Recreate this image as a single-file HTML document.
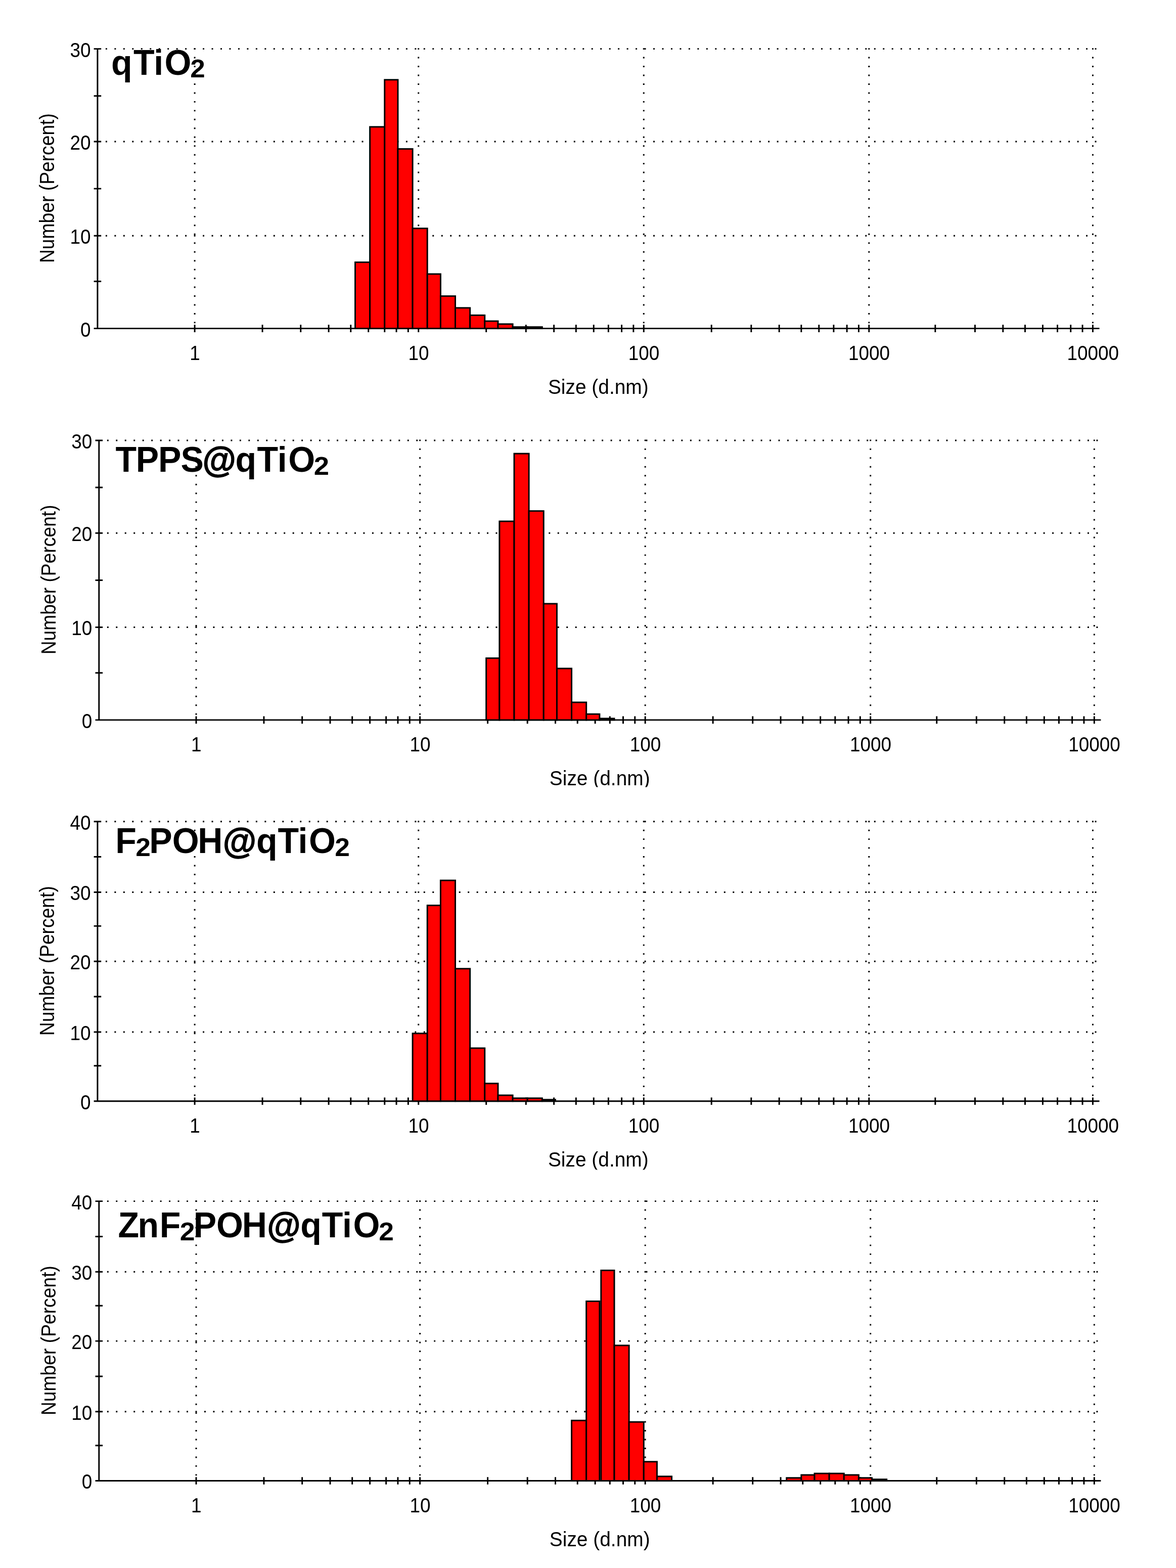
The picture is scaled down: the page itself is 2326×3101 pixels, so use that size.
<!DOCTYPE html>
<html lang="en"><head><meta charset="utf-8"><title>DLS number distributions</title>
<style>
html,body{margin:0;padding:0;background:#fff}
svg{display:block}
text{font-family:"Liberation Sans", Arial, sans-serif;fill:#000;font-kerning:none}
.t{font-size:41px}
.b{font-size:70.5px;font-weight:bold}
.s{font-size:50px;font-weight:bold}
.a{stroke:#000;stroke-width:1.3px}
.g{stroke:#000;stroke-width:2.95;stroke-dasharray:2.95 14.52;fill:none}
.v{stroke:#000;stroke-width:2.95;stroke-dasharray:2.95 14.51;fill:none}
.l{stroke:#000;stroke-width:2.95;fill:none}
.r{fill:#f00;stroke:#000;stroke-width:2.95}
</style></head><body>
<svg width="2326" height="3101" viewBox="0 0 2326 3101">
<rect width="2326" height="3101" fill="#fff"/>
<g>
<path class="g" d="M208.91 466.26H2169.02M208.91 279.99H2169.02M208.91 96.63H2169.02"/>
<path class="v" d="M385.1 95.16V639.76M827.72 95.16V639.76M1273.26 95.16V639.76M1718.8 95.16V639.76M2161.42 95.16V639.76"/>
<path class="l" d="M192.91 96.63V649.62M185.63 649.62H2174.52M185.63 96.63H200.19M185.63 189.77H200.19M185.63 279.99H200.19M185.63 373.13H200.19M185.63 466.26H200.19M185.63 556.49H200.19M385.1 642.35V656.9M519.05 642.35V656.9M594.76 642.35V656.9M650.09 642.35V656.9M693.77 642.35V656.9M728.72 642.35V656.9M760.75 642.35V656.9M784.04 642.35V656.9M807.34 642.35V656.9M827.72 642.35V656.9M961.68 642.35V656.9M1040.3 642.35V656.9M1095.63 642.35V656.9M1139.31 642.35V656.9M1174.25 642.35V656.9M1203.37 642.35V656.9M1229.58 642.35V656.9M1252.88 642.35V656.9M1273.26 642.35V656.9M1407.21 642.35V656.9M1485.84 642.35V656.9M1541.16 642.35V656.9M1584.84 642.35V656.9M1619.79 642.35V656.9M1648.91 642.35V656.9M1675.12 642.35V656.9M1698.41 642.35V656.9M1718.8 642.35V656.9M1849.84 642.35V656.9M1928.46 642.35V656.9M1983.79 642.35V656.9M2027.47 642.35V656.9M2062.41 642.35V656.9M2091.53 642.35V656.9M2117.74 642.35V656.9M2141.04 642.35V656.9M2161.42 642.35V656.9"/>
<rect class="r" x="702.51" y="518.65" width="29.12" height="130.97"/>
<rect class="r" x="731.63" y="250.89" width="29.12" height="398.74"/>
<rect class="r" x="760.75" y="157.75" width="26.21" height="491.87"/>
<rect class="r" x="786.96" y="294.54" width="29.12" height="355.08"/>
<rect class="r" x="816.08" y="451.71" width="29.12" height="197.91"/>
<rect class="r" x="845.2" y="541.94" width="26.21" height="107.69"/>
<rect class="r" x="871.4" y="585.59" width="29.12" height="64.03"/>
<rect class="r" x="900.52" y="608.88" width="29.12" height="40.75"/>
<rect class="r" x="929.64" y="623.43" width="29.12" height="26.19"/>
<rect class="r" x="958.76" y="635.07" width="26.21" height="14.55"/>
<rect class="r" x="984.97" y="640.89" width="29.12" height="8.73"/>
<rect class="r" x="1014.09" y="646.71" width="29.12" height="2.91"/>
<rect class="r" x="1043.21" y="646.71" width="29.12" height="2.91"/>
<text class="t" x="158.9" y="665.52" textLength="20.5" lengthAdjust="spacingAndGlyphs">0</text>
<text class="t" x="138.4" y="482.16" textLength="41" lengthAdjust="spacingAndGlyphs">10</text>
<text class="t" x="138.4" y="295.89" textLength="41" lengthAdjust="spacingAndGlyphs">20</text>
<text class="t" x="138.4" y="112.53" textLength="41" lengthAdjust="spacingAndGlyphs">30</text>
<text class="t" x="375.15" y="711.92" textLength="20.5" lengthAdjust="spacingAndGlyphs">1</text>
<text class="t" x="807.52" y="711.92" textLength="41" lengthAdjust="spacingAndGlyphs">10</text>
<text class="t" x="1242.81" y="711.92" textLength="61.5" lengthAdjust="spacingAndGlyphs">100</text>
<text class="t" x="1678.1" y="711.92" textLength="82" lengthAdjust="spacingAndGlyphs">1000</text>
<text class="t" x="2110.47" y="711.92" textLength="102.5" lengthAdjust="spacingAndGlyphs">10000</text>
<text class="t" x="1083.93" y="778.92" textLength="198.78" lengthAdjust="spacingAndGlyphs">Size (d.nm)</text>
<text class="t" x="-3.06" y="0" textLength="295.96" lengthAdjust="spacingAndGlyphs" transform="translate(106.9 517.03) rotate(-90)">Number (Percent)</text>
<text class="b" transform="scale(0.965 1)" y="147.7"><tspan x="227.99 273.51 315.18 337.42">qTiO</tspan><tspan class="s" x="389.91" dy="5.8" textLength="30.53" lengthAdjust="spacingAndGlyphs">2</tspan></text>
</g>
<g>
<path class="g" d="M211.81 1240.53H2171.92M211.81 1054.26H2171.92M211.81 870.9H2171.92"/>
<path class="v" d="M388 869.42V1414.03M830.62 869.42V1414.03M1276.16 869.42V1414.03M1721.7 869.42V1414.03M2164.32 869.42V1414.03"/>
<path class="l" d="M195.81 870.9V1423.89M188.53 1423.89H2177.42M188.53 870.9H203.09M188.53 964.04H203.09M188.53 1054.26H203.09M188.53 1147.4H203.09M188.53 1240.53H203.09M188.53 1330.76H203.09M388 1416.62V1431.17M521.95 1416.62V1431.17M597.66 1416.62V1431.17M652.99 1416.62V1431.17M696.67 1416.62V1431.17M731.62 1416.62V1431.17M763.65 1416.62V1431.17M786.94 1416.62V1431.17M810.24 1416.62V1431.17M830.62 1416.62V1431.17M964.58 1416.62V1431.17M1043.2 1416.62V1431.17M1098.53 1416.62V1431.17M1142.21 1416.62V1431.17M1177.15 1416.62V1431.17M1206.27 1416.62V1431.17M1232.48 1416.62V1431.17M1255.78 1416.62V1431.17M1276.16 1416.62V1431.17M1410.11 1416.62V1431.17M1488.74 1416.62V1431.17M1544.06 1416.62V1431.17M1587.74 1416.62V1431.17M1622.69 1416.62V1431.17M1651.81 1416.62V1431.17M1678.02 1416.62V1431.17M1701.31 1416.62V1431.17M1721.7 1416.62V1431.17M1852.74 1416.62V1431.17M1931.36 1416.62V1431.17M1986.69 1416.62V1431.17M2030.37 1416.62V1431.17M2065.31 1416.62V1431.17M2094.43 1416.62V1431.17M2120.64 1416.62V1431.17M2143.94 1416.62V1431.17M2164.32 1416.62V1431.17"/>
<rect class="r" x="961.66" y="1301.65" width="26.21" height="122.24"/>
<rect class="r" x="987.87" y="1030.98" width="29.12" height="392.92"/>
<rect class="r" x="1016.99" y="897.09" width="29.12" height="526.8"/>
<rect class="r" x="1046.11" y="1010.6" width="29.12" height="413.29"/>
<rect class="r" x="1075.23" y="1193.97" width="26.21" height="229.93"/>
<rect class="r" x="1101.44" y="1322.03" width="29.12" height="101.87"/>
<rect class="r" x="1130.56" y="1388.97" width="29.12" height="34.93"/>
<rect class="r" x="1159.68" y="1412.25" width="26.21" height="11.64"/>
<rect class="r" x="1185.89" y="1420.98" width="29.12" height="2.91"/>
<text class="t" x="161.8" y="1439.8" textLength="20.5" lengthAdjust="spacingAndGlyphs">0</text>
<text class="t" x="141.3" y="1256.43" textLength="41" lengthAdjust="spacingAndGlyphs">10</text>
<text class="t" x="141.3" y="1070.16" textLength="41" lengthAdjust="spacingAndGlyphs">20</text>
<text class="t" x="141.3" y="886.8" textLength="41" lengthAdjust="spacingAndGlyphs">30</text>
<text class="t" x="378.05" y="1486.19" textLength="20.5" lengthAdjust="spacingAndGlyphs">1</text>
<text class="t" x="810.42" y="1486.19" textLength="41" lengthAdjust="spacingAndGlyphs">10</text>
<text class="t" x="1245.71" y="1486.19" textLength="61.5" lengthAdjust="spacingAndGlyphs">100</text>
<text class="t" x="1681" y="1486.19" textLength="82" lengthAdjust="spacingAndGlyphs">1000</text>
<text class="t" x="2113.37" y="1486.19" textLength="102.5" lengthAdjust="spacingAndGlyphs">10000</text>
<text class="t" x="1086.83" y="1553.19" textLength="198.78" lengthAdjust="spacingAndGlyphs">Size (d.nm)</text>
<text class="t" x="-3.06" y="0" textLength="295.96" lengthAdjust="spacingAndGlyphs" transform="translate(109.8 1291.3) rotate(-90)">Number (Percent)</text>
<text class="b" transform="scale(0.965 1)" y="933.3"><tspan x="236.82 278.6 324.3 370.51 415.04 482.5 526.98 568.65 590.89">TPPS<tspan class="a">@</tspan>qTiO</tspan><tspan class="s" x="643.33" dy="5.8" textLength="31.36" lengthAdjust="spacingAndGlyphs">2</tspan></text>
</g>
<g>
<path class="g" d="M208.91 2040.9H2169.02M208.91 1901.2H2169.02M208.91 1764.4H2169.02M208.91 1624.7H2169.02"/>
<path class="v" d="M385.1 1623.23V2167.83M827.72 1623.23V2167.83M1273.26 1623.23V2167.83M1718.8 1623.23V2167.83M2161.42 1623.23V2167.83"/>
<path class="l" d="M192.91 1624.7V2177.7M185.63 2177.7H2174.52M185.63 1624.7H200.19M185.63 1694.55H200.19M185.63 1764.4H200.19M185.63 1831.35H200.19M185.63 1901.2H200.19M185.63 1971.05H200.19M185.63 2040.9H200.19M185.63 2107.84H200.19M385.1 2170.42V2184.97M519.05 2170.42V2184.97M594.76 2170.42V2184.97M650.09 2170.42V2184.97M693.77 2170.42V2184.97M728.72 2170.42V2184.97M760.75 2170.42V2184.97M784.04 2170.42V2184.97M807.34 2170.42V2184.97M827.72 2170.42V2184.97M961.68 2170.42V2184.97M1040.3 2170.42V2184.97M1095.63 2170.42V2184.97M1139.31 2170.42V2184.97M1174.25 2170.42V2184.97M1203.37 2170.42V2184.97M1229.58 2170.42V2184.97M1252.88 2170.42V2184.97M1273.26 2170.42V2184.97M1407.21 2170.42V2184.97M1485.84 2170.42V2184.97M1541.16 2170.42V2184.97M1584.84 2170.42V2184.97M1619.79 2170.42V2184.97M1648.91 2170.42V2184.97M1675.12 2170.42V2184.97M1698.41 2170.42V2184.97M1718.8 2170.42V2184.97M1849.84 2170.42V2184.97M1928.46 2170.42V2184.97M1983.79 2170.42V2184.97M2027.47 2170.42V2184.97M2062.41 2170.42V2184.97M2091.53 2170.42V2184.97M2117.74 2170.42V2184.97M2141.04 2170.42V2184.97M2161.42 2170.42V2184.97"/>
<rect class="r" x="816.08" y="2043.81" width="29.12" height="133.88"/>
<rect class="r" x="845.2" y="1790.6" width="26.21" height="387.1"/>
<rect class="r" x="871.4" y="1741.12" width="29.12" height="436.57"/>
<rect class="r" x="900.52" y="1915.75" width="29.12" height="261.94"/>
<rect class="r" x="929.64" y="2072.92" width="29.12" height="104.78"/>
<rect class="r" x="958.76" y="2142.77" width="26.21" height="34.93"/>
<rect class="r" x="984.97" y="2166.05" width="29.12" height="11.64"/>
<rect class="r" x="1014.09" y="2171.87" width="29.12" height="5.82"/>
<rect class="r" x="1043.21" y="2171.87" width="29.12" height="5.82"/>
<rect class="r" x="1072.33" y="2174.78" width="26.21" height="2.91"/>
<text class="t" x="158.9" y="2193.6" textLength="20.5" lengthAdjust="spacingAndGlyphs">0</text>
<text class="t" x="138.4" y="2056.8" textLength="41" lengthAdjust="spacingAndGlyphs">10</text>
<text class="t" x="138.4" y="1917.1" textLength="41" lengthAdjust="spacingAndGlyphs">20</text>
<text class="t" x="138.4" y="1780.3" textLength="41" lengthAdjust="spacingAndGlyphs">30</text>
<text class="t" x="138.4" y="1640.6" textLength="41" lengthAdjust="spacingAndGlyphs">40</text>
<text class="t" x="375.15" y="2240" textLength="20.5" lengthAdjust="spacingAndGlyphs">1</text>
<text class="t" x="807.52" y="2240" textLength="41" lengthAdjust="spacingAndGlyphs">10</text>
<text class="t" x="1242.81" y="2240" textLength="61.5" lengthAdjust="spacingAndGlyphs">100</text>
<text class="t" x="1678.1" y="2240" textLength="82" lengthAdjust="spacingAndGlyphs">1000</text>
<text class="t" x="2110.47" y="2240" textLength="102.5" lengthAdjust="spacingAndGlyphs">10000</text>
<text class="t" x="1083.93" y="2307" textLength="198.78" lengthAdjust="spacingAndGlyphs">Size (d.nm)</text>
<text class="t" x="-3.06" y="0" textLength="295.96" lengthAdjust="spacingAndGlyphs" transform="translate(106.9 2045.1) rotate(-90)">Number (Percent)</text>
<text class="b" transform="scale(0.965 1)" y="1687.2"><tspan x="236.53">F</tspan><tspan class="s" x="278.08" dy="5.8" textLength="30.76" lengthAdjust="spacingAndGlyphs">2</tspan><tspan x="305.96 353.07 405.44 456.8 525.29 569.36 610.93 633.17" dy="-5.8">POH<tspan class="a">@</tspan>qTiO</tspan><tspan class="s" x="686.17" dy="5.8" textLength="30.76" lengthAdjust="spacingAndGlyphs">2</tspan></text>
</g>
<g>
<path class="g" d="M211.81 2791.8H2171.92M211.81 2652.1H2171.92M211.81 2515.3H2171.92M211.81 2375.6H2171.92"/>
<path class="v" d="M388 2374.12V2918.73M830.62 2374.12V2918.73M1276.16 2374.12V2918.73M1721.7 2374.12V2918.73M2164.32 2374.12V2918.73"/>
<path class="l" d="M195.81 2375.6V2928.59M188.53 2928.59H2177.42M188.53 2375.6H203.09M188.53 2445.45H203.09M188.53 2515.3H203.09M188.53 2582.25H203.09M188.53 2652.1H203.09M188.53 2721.95H203.09M188.53 2791.8H203.09M188.53 2858.74H203.09M388 2921.32V2935.87M521.95 2921.32V2935.87M597.66 2921.32V2935.87M652.99 2921.32V2935.87M696.67 2921.32V2935.87M731.62 2921.32V2935.87M763.65 2921.32V2935.87M786.94 2921.32V2935.87M810.24 2921.32V2935.87M830.62 2921.32V2935.87M964.58 2921.32V2935.87M1043.2 2921.32V2935.87M1098.53 2921.32V2935.87M1142.21 2921.32V2935.87M1177.15 2921.32V2935.87M1206.27 2921.32V2935.87M1232.48 2921.32V2935.87M1255.78 2921.32V2935.87M1276.16 2921.32V2935.87M1410.11 2921.32V2935.87M1488.74 2921.32V2935.87M1544.06 2921.32V2935.87M1587.74 2921.32V2935.87M1622.69 2921.32V2935.87M1651.81 2921.32V2935.87M1678.02 2921.32V2935.87M1701.31 2921.32V2935.87M1721.7 2921.32V2935.87M1852.74 2921.32V2935.87M1931.36 2921.32V2935.87M1986.69 2921.32V2935.87M2030.37 2921.32V2935.87M2065.31 2921.32V2935.87M2094.43 2921.32V2935.87M2120.64 2921.32V2935.87M2143.94 2921.32V2935.87M2164.32 2921.32V2935.87"/>
<rect class="r" x="1130.56" y="2809.26" width="29.12" height="119.33"/>
<rect class="r" x="1159.68" y="2573.51" width="26.21" height="355.08"/>
<rect class="r" x="1188.8" y="2512.39" width="26.21" height="416.2"/>
<rect class="r" x="1215.01" y="2660.83" width="29.12" height="267.77"/>
<rect class="r" x="1244.13" y="2812.17" width="29.12" height="116.42"/>
<rect class="r" x="1273.25" y="2890.76" width="26.21" height="37.84"/>
<rect class="r" x="1299.46" y="2919.86" width="29.12" height="8.73"/>
<rect class="r" x="1555.71" y="2922.77" width="29.12" height="5.82"/>
<rect class="r" x="1584.83" y="2916.95" width="26.21" height="11.64"/>
<rect class="r" x="1611.04" y="2914.04" width="29.12" height="14.55"/>
<rect class="r" x="1640.16" y="2914.04" width="29.12" height="14.55"/>
<rect class="r" x="1669.28" y="2916.95" width="29.12" height="11.64"/>
<rect class="r" x="1698.4" y="2922.77" width="26.21" height="5.82"/>
<rect class="r" x="1724.61" y="2925.68" width="29.12" height="2.91"/>
<text class="t" x="161.8" y="2944.49" textLength="20.5" lengthAdjust="spacingAndGlyphs">0</text>
<text class="t" x="141.3" y="2807.7" textLength="41" lengthAdjust="spacingAndGlyphs">10</text>
<text class="t" x="141.3" y="2668" textLength="41" lengthAdjust="spacingAndGlyphs">20</text>
<text class="t" x="141.3" y="2531.2" textLength="41" lengthAdjust="spacingAndGlyphs">30</text>
<text class="t" x="141.3" y="2391.5" textLength="41" lengthAdjust="spacingAndGlyphs">40</text>
<text class="t" x="378.05" y="2990.89" textLength="20.5" lengthAdjust="spacingAndGlyphs">1</text>
<text class="t" x="810.42" y="2990.89" textLength="41" lengthAdjust="spacingAndGlyphs">10</text>
<text class="t" x="1245.71" y="2990.89" textLength="61.5" lengthAdjust="spacingAndGlyphs">100</text>
<text class="t" x="1681" y="2990.89" textLength="82" lengthAdjust="spacingAndGlyphs">1000</text>
<text class="t" x="2113.37" y="2990.89" textLength="102.5" lengthAdjust="spacingAndGlyphs">10000</text>
<text class="t" x="1086.83" y="3057.89" textLength="198.78" lengthAdjust="spacingAndGlyphs">Size (d.nm)</text>
<text class="t" x="-3.06" y="0" textLength="295.96" lengthAdjust="spacingAndGlyphs" transform="translate(109.8 2796) rotate(-90)">Number (Percent)</text>
<text class="b" transform="scale(0.965 1)" y="2446.9"><tspan x="242.05 282.3 327.2">ZnF</tspan><tspan class="s" x="368.75" dy="5.8" textLength="30.88" lengthAdjust="spacingAndGlyphs">2</tspan><tspan x="396.53 443.64 496.01 547.37 615.86 659.93 701.5 723.74" dy="-5.8">POH<tspan class="a">@</tspan>qTiO</tspan><tspan class="s" x="776.42" dy="5.8" textLength="30.76" lengthAdjust="spacingAndGlyphs">2</tspan></text>
</g>
<rect x="1060" y="1556.6" width="260" height="24" fill="#fff"/>
<rect x="1060" y="2313.4" width="260" height="24" fill="#fff"/>
</svg></body></html>
